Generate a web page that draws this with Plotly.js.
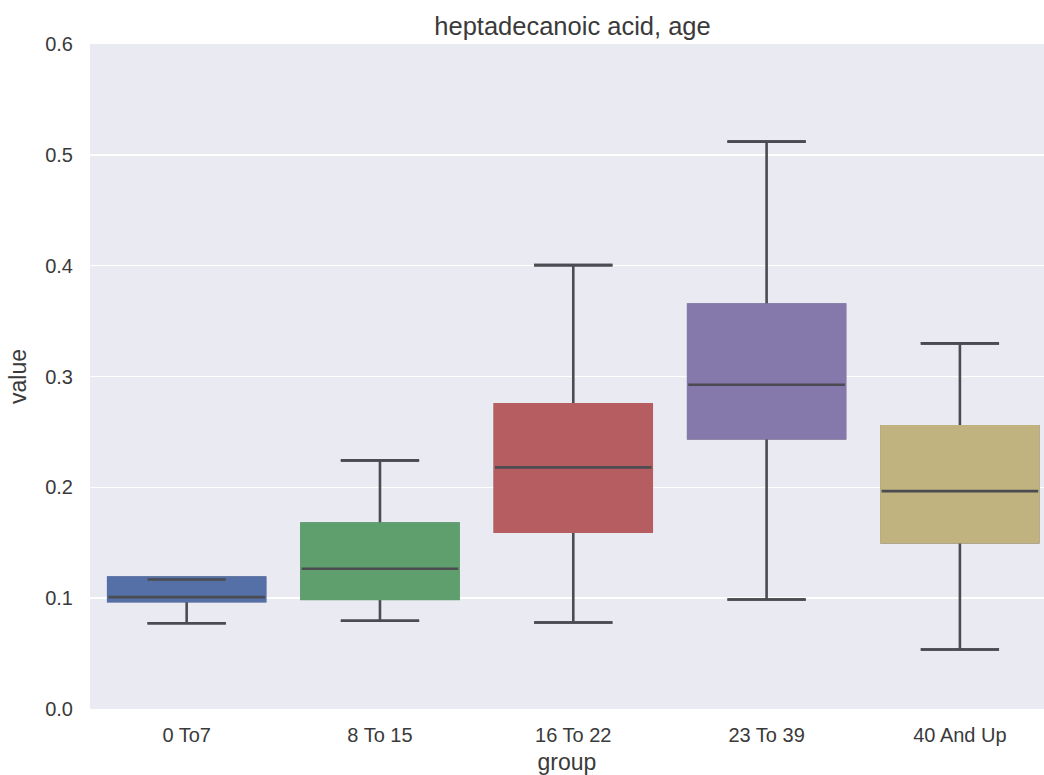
<!DOCTYPE html>
<html>
<head>
<meta charset="utf-8">
<script src="https://cdn.plot.ly/plotly-3.0.1.min.js"></script>
<style>html,body{margin:0;padding:0;background:#fff;overflow:hidden}</style>
</head>
<body>
<div id="chart" style="width:1044px;height:775px"></div>
<script>
// Data
const groups = ["0 To7", "8 To 15", "16 To 22", "23 To 39", "40 And Up"];
const lowerWhisker = [0.0774, 0.0796, 0.0781, 0.0988, 0.0537];
const q1Values     = [0.0975, 0.0995, 0.1602, 0.2444, 0.1506];
const medianValues = [0.1009, 0.1265, 0.2180, 0.2926, 0.1966];
const q3Values     = [0.1184, 0.1671, 0.2748, 0.3648, 0.2550];
const upperWhisker = [0.1169, 0.2243, 0.4005, 0.5119, 0.3299];
const boxColors = ["#5470A6", "#5E9F6D", "#B55D60", "#8579AB", "#C1B37F"];
const yTicks = [0.0, 0.1, 0.2, 0.3, 0.4, 0.5, 0.6];

const gray = "#4b4b51";
const boxWidth = 0.81;
const traces = [];

// Layer 1: whiskers (full statistics, gray)
traces.push({
  type: "box", x: groups,
  q1: q1Values, median: medianValues, q3: q3Values,
  lowerfence: lowerWhisker, upperfence: upperWhisker,
  width: boxWidth, whiskerwidth: 0.5,
  line: {color: gray, width: 2.6},
  fillcolor: "rgba(0,0,0,0)",
  boxpoints: false, hoverinfo: "skip", showlegend: false
});

// Layer 2: coloured boxes without a dark outline
groups.forEach((g, i) => {
  traces.push({
    type: "box", x: [g],
    q1: [q1Values[i]], median: [q1Values[i]], q3: [q3Values[i]],
    lowerfence: [q1Values[i]], upperfence: [q3Values[i]],
    width: boxWidth, whiskerwidth: 0,
    line: {color: boxColors[i], width: 3},
    fillcolor: boxColors[i],
    boxpoints: false, hoverinfo: "skip", showlegend: false
  });
});

// Layer 3: median lines (degenerate boxes)
traces.push({
  type: "box", x: groups,
  q1: medianValues, median: medianValues, q3: medianValues,
  lowerfence: medianValues, upperfence: medianValues,
  width: boxWidth, whiskerwidth: 0,
  line: {color: gray, width: 2.6},
  fillcolor: "rgba(0,0,0,0)",
  boxpoints: false, hoverinfo: "skip", showlegend: false
});

// Layer 4: whisker caps drawn on top (visible even when inside a box)
[upperWhisker, lowerWhisker].forEach(vals => {
  traces.push({
    type: "box", x: groups,
    q1: vals, median: vals, q3: vals,
    lowerfence: vals, upperfence: vals,
    width: boxWidth * 0.5, whiskerwidth: 0,
    line: {color: gray, width: 2.6},
    fillcolor: "rgba(0,0,0,0)",
    boxpoints: false, hoverinfo: "skip", showlegend: false
  });
});

const fontFam = "Liberation Sans, Arial, sans-serif";
const textColor = "#3a3a3a";
const layout = {
  width: 1044, height: 775,
  margin: {l: 90, r: 0, t: 44, b: 66, pad: 0},
  paper_bgcolor: "#ffffff",
  plot_bgcolor: "#EAEAF2",
  boxmode: "overlay",
  showlegend: false,
  font: {family: fontFam, color: textColor, size: 20},
  title: {
    text: "heptadecanoic acid, age",
    font: {family: fontFam, size: 25.5, color: textColor},
    xref: "container", x: 572.5 / 1044, xanchor: "center",
    yref: "container", y: 1 - 26 / 775, yanchor: "middle"
  },
  xaxis: {
    type: "category",
    categoryorder: "array", categoryarray: groups,
    range: [-0.5, 4.435],
    showgrid: false, zeroline: false, showline: false,
    ticks: "", ticklabelstandoff: 12,
    tickfont: {family: fontFam, size: 20, color: textColor},
    title: {text: "group", font: {family: fontFam, size: 23, color: textColor}, standoff: 15},
    fixedrange: true
  },
  yaxis: {
    range: [0, 0.6],
    tickvals: yTicks,
    ticktext: yTicks.map(v => v.toFixed(1)),
    showgrid: true, gridcolor: "#ffffff", gridwidth: 1.6,
    zeroline: false, showline: false,
    ticks: "", ticklabelstandoff: 16,
    tickfont: {family: fontFam, size: 20, color: textColor},
    title: {text: "value", font: {family: fontFam, size: 23, color: textColor}, standoff: 12},
    fixedrange: true
  }
};

Plotly.newPlot("chart", traces, layout, {displayModeBar: false, staticPlot: true});
</script>
</body>
</html>
